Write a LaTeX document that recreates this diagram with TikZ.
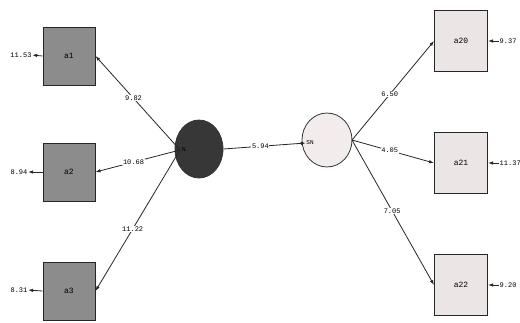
\documentclass[tikz,border=0pt]{standalone}
\usepackage{fontspec}
\setmonofont{Liberation Mono}
\usetikzlibrary{arrows.meta,shapes.geometric}
\definecolor{lboxc}{RGB}{140,140,140}
\definecolor{rboxc}{RGB}{236,229,229}
\definecolor{darkc}{RGB}{55,55,55}
\definecolor{lightc}{RGB}{243,236,236}
\begin{document}
\begin{tikzpicture}[x=1pt,y=-1pt,font=\ttfamily\fontsize{7}{8}\selectfont,
  lbox/.style={draw=black!85,line width=1pt,fill=lboxc,minimum width=52pt,minimum height=58pt,inner sep=0pt,font=\ttfamily\fontsize{8}{9}\selectfont},
  rbox/.style={draw=black!85,line width=1pt,fill=rboxc,minimum width=53pt,minimum height=61pt,inner sep=0pt,font=\ttfamily\fontsize{8}{9}\selectfont},
  lat/.style={draw=black!80,line width=0.8pt,ellipse,inner sep=0pt},
  arr/.style={draw=black!85,line width=0.8pt,-{Latex[length=5pt,width=3.5pt]}},
  lab/.style={fill=white,inner sep=0.6pt},
  err/.style={inner sep=0.5pt}]
\useasboundingbox (0,0) rectangle (520,322);
% boxes
\node[lbox] (a1) at (69,56) {a1};
\node[lbox] (a2) at (69,172) {a2};
\node[lbox] (a3) at (69,291) {a3};
\node[rbox] (a20) at (461,41) {a20};
\node[rbox] (a21) at (461,163) {a21};
\node[rbox] (a22) at (461,285) {a22};
% latent
\node[lat,fill=darkc,minimum width=48pt,minimum height=58pt] (L) at (199,149) {};
\node[lat,fill=lightc,minimum width=50pt,minimum height=54pt] (R) at (327,140) {};
\node[font=\ttfamily\fontsize{6}{7}\selectfont,inner sep=0.5pt] (Lt) at (184,150) {N};
\node[font=\ttfamily\fontsize{6}{7}\selectfont,inner sep=0.5pt] (Rt) at (310,143) {SN};
\coordinate (Lc) at (180,150);
\coordinate (Rc) at (352,140);
% paths
\draw[arr] (Lc) -- (a1.east) node[lab,pos=0.55] {9.82};
\draw[arr] (Lc) -- (a2.east) node[lab,pos=0.55] {10.68};
\draw[arr] (Lc) -- (a3.east) node[lab,pos=0.56] {11.22};
\draw[arr] (L.east) -- (Rt.west) node[lab,pos=0.45] {5.94};
\draw[arr] (Rc) -- (a20.west) node[lab,pos=0.46] {6.50};
\draw[arr] (Rc) -- (a21.west) node[lab,pos=0.46] {4.05};
\draw[arr] (Rc) -- (a22.west) node[lab,pos=0.49] {7.05};
% errors
\node[err] (e1) at (21,55) {11.53};
\node[err] (e2) at (19,172) {8.94};
\node[err] (e3) at (19,290) {8.31};
\node[err,anchor=west] (e20) at (499,41) {9.37};
\node[err,anchor=west] (e21) at (499,163) {11.37};
\node[err,anchor=west] (e22) at (499,285) {9.20};
\draw[arr] (a1.west) -- (e1.east);
\draw[arr] (a2.west) -- (e2.east);
\draw[arr] (a3.west) -- (e3.east);
\draw[arr] (e20.west) -- (a20.east);
\draw[arr] (e21.west) -- (a21.east);
\draw[arr] (e22.west) -- (a22.east);
\end{tikzpicture}
\end{document}
